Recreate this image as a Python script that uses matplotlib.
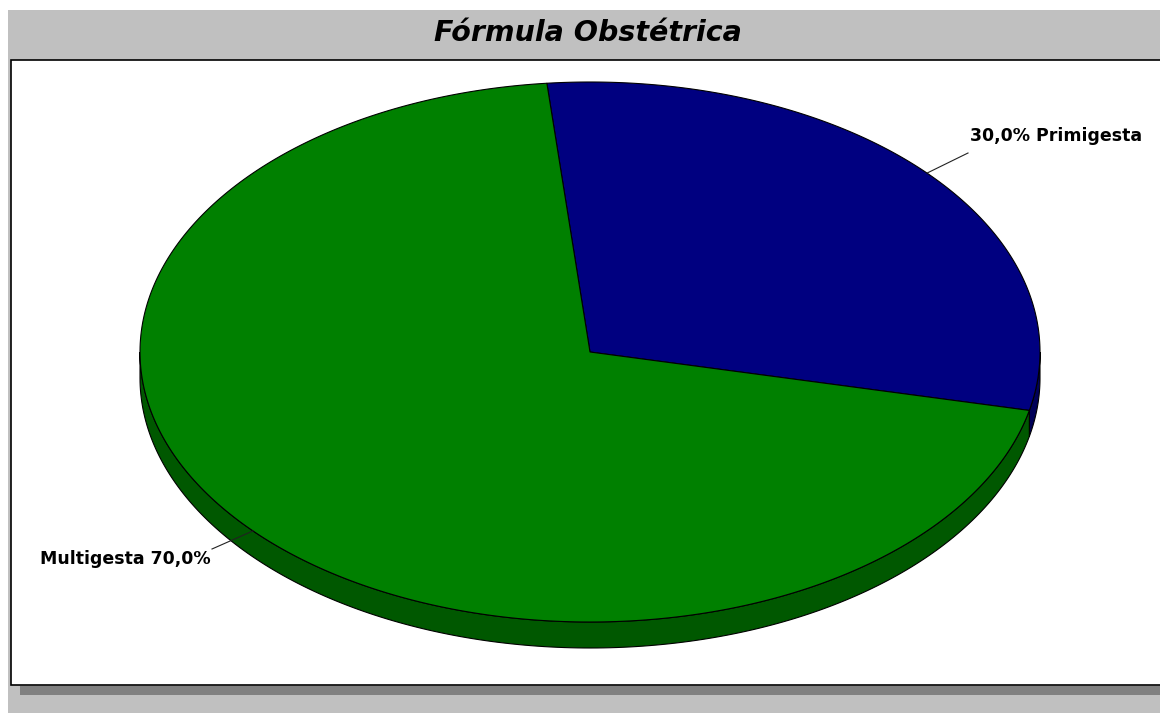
import numpy as np
import matplotlib
matplotlib.use("Agg")
from matplotlib import pyplot as plt
from matplotlib.patches import Rectangle, Polygon

labels = ["Primigesta", "Multigesta"]
values = [30.0, 70.0]
top_colors = ["#000080", "#008000"]
side_colors = ["#000058", "#005800"]

START_ANGLE = -12.5        # degrees, first slice goes counter-clockwise from here
CX, CY = 590, 352          # ellipse centre (pixels)
RX, RY = 450, 270          # ellipse radii
DEPTH = 26                 # thickness of the disc


def ell(t_deg, dy=0.0):
    t = np.radians(t_deg)
    return np.column_stack([CX + RX * np.cos(t), CY - RY * np.sin(t) + dy])


fig = plt.figure(figsize=(11.6, 7.13), dpi=100, facecolor="white")
ax = fig.add_axes([0, 0, 1, 1])
ax.set_xlim(0, 1160)
ax.set_ylim(713, 0)
ax.axis("off")

# frame: gray panel, shadow, white plot area
ax.add_patch(Rectangle((8, 10), 1160, 710, facecolor="#c0c0c0", edgecolor="none"))
ax.add_patch(Rectangle((20, 686), 1160, 9, facecolor="#808080", edgecolor="none"))
ax.add_patch(Rectangle((11, 60), 1160, 625, facecolor="white", edgecolor="black", linewidth=1.2))

ax.text(588, 33, "Fórmula Obstétrica", ha="center", va="center", fontsize=20.5,
        fontweight="bold", fontstyle="italic", family="DejaVu Sans")

total = sum(values)
spans = []
a0 = START_ANGLE
for v in values:
    a1 = a0 + 360.0 * v / total
    spans.append((a0, a1))
    a0 = a1

# side walls of the front half
for (t0, t1), col in zip(spans, side_colors):
    for lo, hi in [(180, 360), (540, 720), (-180, 0)]:
        s0, s1 = max(t0, lo), min(t1, hi)
        if s1 <= s0:
            continue
        ts = np.linspace(s0, s1, 200)
        pts = np.vstack([ell(ts), ell(ts[::-1], DEPTH)])
        ax.add_patch(Polygon(pts, closed=True, facecolor=col, edgecolor="black", linewidth=0.8))

# top faces
for (t0, t1), col in zip(spans, top_colors):
    ts = np.linspace(t0, t1, 300)
    pts = np.vstack([[CX, CY], ell(ts)])
    ax.add_patch(Polygon(pts, closed=True, facecolor=col, edgecolor="black", linewidth=0.8))

# labels with leader lines from the middle of each slice's rim
for (t0, t1), lab, v in zip(spans, labels, values):
    mid = (t0 + t1) / 2
    p = ell(np.array([mid]))[0]
    pct = f"{v:.1f}%".replace(".", ",")
    if np.cos(np.radians(mid)) >= 0:
        q = (968, 153)
        ax.plot([p[0], q[0]], [p[1], q[1]], color="#222222", lw=0.8)
        ax.text(q[0] + 2, 136, f"{pct} {lab}", ha="left", va="center",
                fontsize=12.5, fontweight="bold", family="DejaVu Sans")
    else:
        q = (212, 549)
        ax.plot([p[0], q[0]], [p[1], q[1]], color="#222222", lw=0.8)
        ax.text(q[0] - 1, 559, f"{lab} {pct}", ha="right", va="center",
                fontsize=12.5, fontweight="bold", family="DejaVu Sans")

fig.savefig("out.png", dpi=100, facecolor="white")
